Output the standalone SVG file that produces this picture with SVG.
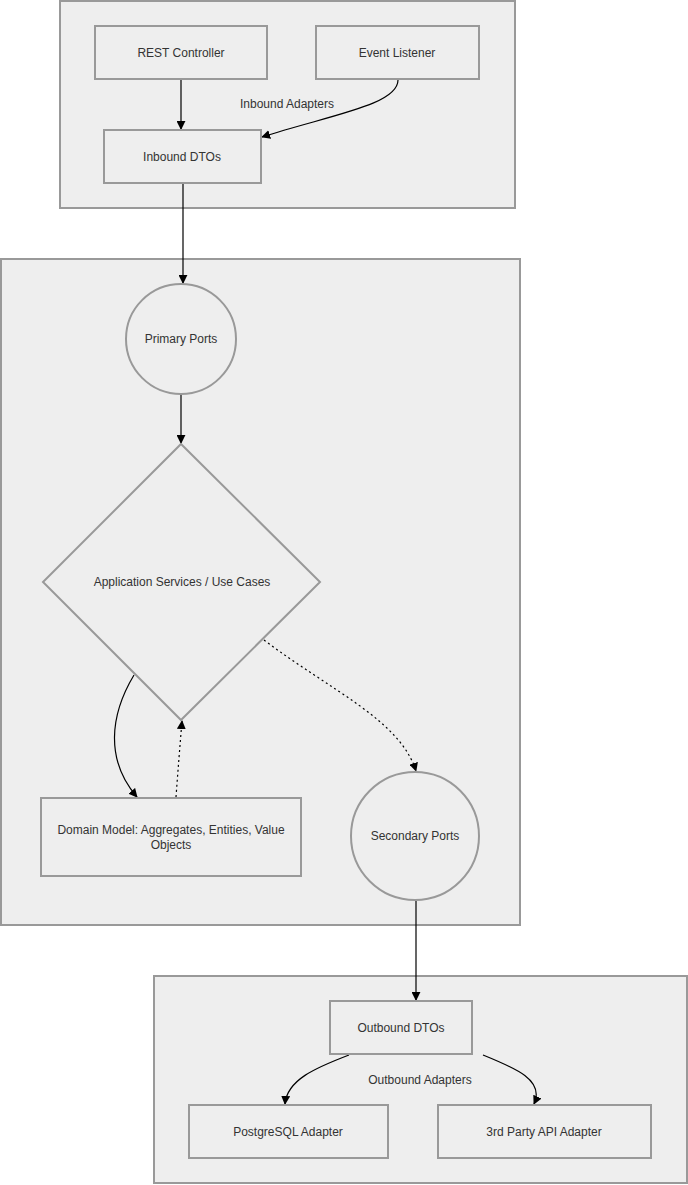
<svg xmlns="http://www.w3.org/2000/svg" width="688" height="1185" viewBox="0 0 688 1185">
<defs>
<marker id="arr" viewBox="0 0 10 10" refX="9" refY="5" markerWidth="9" markerHeight="9" markerUnits="userSpaceOnUse" orient="auto">
<path d="M0,0 L10,5 L0,10 z" fill="#000"/>
</marker>
<style>
.cl{fill:#eeeeee;stroke:#999999;stroke-width:2}
.nd{fill:#eeeeee;stroke:#999999;stroke-width:2}
.t{font-family:"Liberation Sans",Arial,sans-serif;font-size:12px;fill:#333333;text-anchor:middle;dominant-baseline:central}
.e{fill:none;stroke:#000;stroke-width:1.2;marker-end:url(#arr)}
.d{stroke-dasharray:2,3}
</style>
</defs>
<rect width="688" height="1185" fill="#ffffff"/>
<g id="clusters">
<g id="inbound-adapters"><rect class="cl" x="60" y="1" width="455" height="207"/><text class="t" x="287" y="104">Inbound Adapters</text></g>
<g id="core"><rect class="cl" x="1" y="259" width="519" height="666"/></g>
<g id="outbound-adapters"><rect class="cl" x="154" y="976" width="533" height="207"/><text class="t" x="420" y="1080">Outbound Adapters</text></g>
</g>
<g id="connectors">
<path class="e" d="M181,80 L181,129"/>
<path class="e" d="M398,80 C398,105 330,115 262,137"/>
<path class="e" d="M183,184 L183,283"/>
<path class="e" d="M181,395 L181,443"/>
<path class="e" d="M134,675 C110,715 105,760 137,797"/>
<path class="e d" d="M176,797 C178,770 180,745 182,721"/>
<path class="e d" d="M264,640 C330,690 400,720 416,771"/>
<path class="e" d="M416,901 L416,1000"/>
<path class="e" d="M349,1055 C315,1068 287,1080 285,1104"/>
<path class="e" d="M483,1055 C515,1068 545,1080 534,1104"/>
</g>
<g id="rest-controller"><rect class="nd" x="95" y="26" width="172" height="53"/><text class="t" x="181" y="53">REST Controller</text></g>
<g id="event-listener"><rect class="nd" x="316" y="26" width="163" height="53"/><text class="t" x="397" y="53">Event Listener</text></g>
<g id="inbound-dtos"><rect class="nd" x="104" y="130" width="157" height="53"/><text class="t" x="182" y="157">Inbound DTOs</text></g>
<g id="primary-ports"><circle class="nd" cx="181" cy="339" r="55"/><text class="t" x="181" y="339">Primary Ports</text></g>
<g id="application-services"><polygon class="nd" points="181,444 320,582 181,720 43,582"/><text class="t" x="182" y="582">Application Services / Use Cases</text></g>
<g id="domain-model"><rect class="nd" x="41" y="798" width="260" height="78"/><text class="t" x="171" y="830">Domain Model: Aggregates, Entities, Value</text><text class="t" x="171" y="845">Objects</text></g>
<g id="secondary-ports"><circle class="nd" cx="415" cy="836" r="64"/><text class="t" x="415" y="836">Secondary Ports</text></g>
<g id="outbound-dtos"><rect class="nd" x="330" y="1001" width="142" height="53"/><text class="t" x="401" y="1028">Outbound DTOs</text></g>
<g id="postgresql-adapter"><rect class="nd" x="189" y="1105" width="199" height="53"/><text class="t" x="288" y="1132">PostgreSQL Adapter</text></g>
<g id="third-party-api-adapter"><rect class="nd" x="438" y="1105" width="213" height="53"/><text class="t" x="544" y="1132">3rd Party API Adapter</text></g>
</svg>
